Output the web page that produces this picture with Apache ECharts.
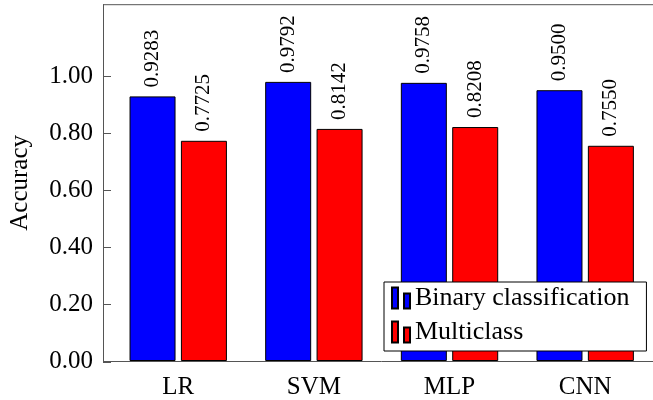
<!DOCTYPE html>
<html>
<head>
<meta charset="utf-8">
<script src="https://cdn.jsdelivr.net/npm/echarts@6/dist/echarts.min.js"></script>
<style>html,body{margin:0;padding:0;background:#fff}#c{width:653px;height:400px}</style>
</head>
<body>
<div id="c"></div>
<script>
const categories = ['LR', 'SVM', 'MLP', 'CNN'];
const binaryValues = [0.9283, 0.9792, 0.9758, 0.9500];
const multiclassValues = [0.7725, 0.8142, 0.8208, 0.7550];
const yTicks = [0, 0.2, 0.4, 0.6, 0.8, 1.0];
const seriesNames = ['Binary classification', 'Multiclass'];

const FONT = 'Liberation Serif';
const AX = '#555555';
const chart = echarts.init(document.getElementById('c'), null, {renderer: 'canvas'});

function labelCfg() {
  return {
    show: true, position: 'top', rotate: 90, distance: 9,
    align: 'left', verticalAlign: 'middle',
    fontFamily: FONT, fontSize: 21, color: '#000',
    formatter: p => p.value.toFixed(4)
  };
}

chart.setOption({
  animation: false,
  grid: {left: 110.4, right: -2.2, top: 4.7, bottom: 37.5, containLabel: false},
  xAxis: {
    type: 'category', data: categories,
    axisLine: {lineStyle: {color: AX, width: 1}},
    axisTick: {show: false},
    axisLabel: {fontFamily: FONT, fontSize: 25, color: '#000', margin: 14}
  },
  yAxis: {
    type: 'value', min: 0, max: 1.25, offset: 7.4,
    name: 'Accuracy', nameLocation: 'middle', nameRotate: 90, nameGap: 70,
    nameTextStyle: {fontFamily: FONT, fontSize: 25, color: '#000'},
    axisLine: {show: true, lineStyle: {color: AX, width: 1}},
    axisTick: {show: true, inside: true, length: 8, lineStyle: {color: AX}, customValues: yTicks},
    axisLabel: {fontFamily: FONT, fontSize: 25, color: '#000', margin: 10,
      customValues: yTicks, formatter: v => v.toFixed(2)},
    splitLine: {show: false}
  },
  legend: {
    orient: 'vertical', left: 384, top: 282,
    padding: [3, 17, 6, 7], itemGap: 8,
    itemWidth: 18, itemHeight: 21,
    icon: 'path://M0,0h6v21h-6z M12,6h6v15h-6z',
    backgroundColor: '#fff', borderColor: '#000', borderWidth: 1, borderRadius: 0,
    textStyle: {fontFamily: FONT, fontSize: 26, color: '#000'},
    data: seriesNames
  },
  graphic: [
    {type: 'line', shape: {x1: 103, y1: 4.7, x2: 653, y2: 4.7}, style: {stroke: AX, lineWidth: 1}, silent: true},
    {type: 'line', shape: {x1: 103, y1: 362.5, x2: 111, y2: 362.5}, style: {stroke: AX, lineWidth: 1}, silent: true}
  ],
  series: [
    {name: seriesNames[0], type: 'bar', data: binaryValues, barWidth: 46, barGap: '11.7%',
     itemStyle: {color: '#0000ff', borderColor: '#000', borderWidth: 1}, label: labelCfg()},
    {name: seriesNames[1], type: 'bar', data: multiclassValues, barWidth: 46, barGap: '11.7%',
     itemStyle: {color: '#ff0000', borderColor: '#000', borderWidth: 1}, label: labelCfg()}
  ]
});
</script>
</body>
</html>
